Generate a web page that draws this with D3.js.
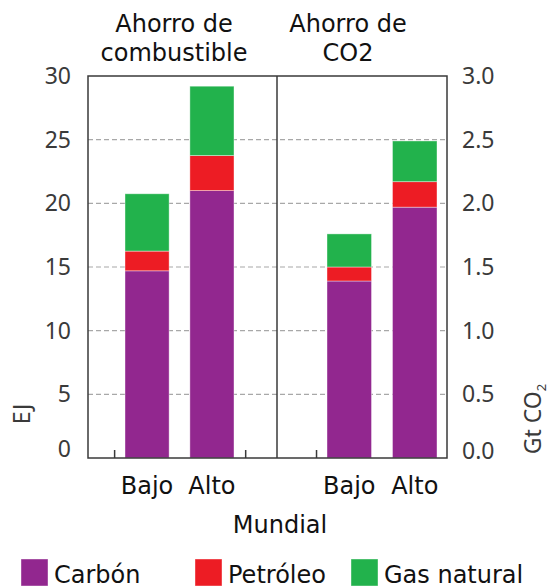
<!DOCTYPE html>
<html>
<head>
<meta charset="utf-8">
<script src="https://cdn.jsdelivr.net/npm/d3@7"></script>
<style>
  html, body { margin: 0; padding: 0; background: #fff; }
  svg { display: block; }
</style>
</head>
<body>
<svg id="chart" width="553" height="588"></svg>
<script>
// ---- data ----
const categories = ["Bajo", "Alto"];
const seriesNames = ["Carbón", "Petróleo", "Gas natural"];
const seriesColors = ["#92278f", "#ed1c24", "#22b24c"];
// Ahorro de combustible (EJ)
const fuelCarbon = [14.7, 21.0];
const fuelOil = [1.55, 2.75];
const fuelGas = [4.5, 5.45];
// Ahorro de CO2 (Gt CO2)
const co2Carbon = [1.39, 1.97];
const co2Oil = [0.11, 0.20];
const co2Gas = [0.26, 0.32];
const leftTicks = [0, 5, 10, 15, 20, 25, 30];
const rightTicks = [0, 0.5, 1.0, 1.5, 2.0, 2.5, 3.0];
const panelTitles = [["Ahorro de", "combustible"], ["Ahorro de", "CO2"]];
const xTitle = "Mundial";
const leftAxisTitle = "EJ";

(function () {
// ---- layout ----
const svg = d3.select("#chart");
const pLeft = 88, pRight = 447, pTop = 76, pBottom = 458, divider = 277;
const yL = d3.scaleLinear().domain([0, 30]).range([pBottom, pTop]);
const yR = d3.scaleLinear().domain([0, 3]).range([pBottom, pTop]);

const xL = d3.scaleBand().domain(categories).range([125, 234]).paddingInner(0.32).paddingOuter(0);
const xR = d3.scaleBand().domain(categories).range([327, 437]).paddingInner(0.32).paddingOuter(0);

const tickFont = "'Noto Sans', 'Open Sans', sans-serif";
const mainFont = "'DejaVu Sans', sans-serif";

// gridlines
svg.append("g").selectAll("line")
  .data(leftTicks.filter(t => t > 0 && t < 30))
  .join("line")
  .attr("x1", pLeft).attr("x2", pRight)
  .attr("y1", d => yL(d)).attr("y2", d => yL(d))
  .attr("stroke", "#a8a8a8").attr("stroke-width", 1.2)
  .attr("stroke-dasharray", "5,3");

// stacked bars
function drawPanel(x, y, carbon, oil, gas) {
  const rows = categories.map((c, i) => ({ cat: c, "Carbón": carbon[i], "Petróleo": oil[i], "Gas natural": gas[i] }));
  const stacked = d3.stack().keys(seriesNames)(rows);
  const g = svg.append("g");
  stacked.forEach((layer, li) => {
    g.append("g").selectAll("rect")
      .data(layer)
      .join("rect")
      .attr("x", d => x(d.data.cat))
      .attr("width", x.bandwidth())
      .attr("y", d => y(d[1]))
      .attr("height", d => y(d[0]) - y(d[1]))
      .attr("fill", seriesColors[li])
      .attr("stroke", "#ffffff").attr("stroke-opacity", 0.5).attr("stroke-width", 0.8);
  });
}
drawPanel(xL, yL, fuelCarbon, fuelOil, fuelGas);
drawPanel(xR, yR, co2Carbon, co2Oil, co2Gas);

// frame
const frame = svg.append("g").attr("stroke", "#3a3a3a").attr("stroke-width", 1.5).attr("fill", "none");
frame.append("rect").attr("x", pLeft).attr("y", pTop).attr("width", pRight - pLeft).attr("height", pBottom - pTop);
frame.append("line").attr("x1", divider).attr("x2", divider).attr("y1", pTop).attr("y2", pBottom);

// bottom tick marks
function tickPositions(x) {
  const st = x.step();
  return [x(categories[0]) - st * 0.16, x(categories[categories.length - 1]) + x.bandwidth() + st * 0.18];
}
const bticks = tickPositions(xL).concat(tickPositions(xR)).filter(v => v > pLeft && v < pRight - 2);
frame.append("g").selectAll("line").data(bticks).join("line")
  .attr("x1", d => d).attr("x2", d => d)
  .attr("y1", pBottom).attr("y2", pBottom - 8);

// y tick labels
svg.append("g").selectAll("text").data(leftTicks).join("text")
  .attr("x", 71).attr("y", d => yL(d) - (d === 0 ? 9 : 0))
  .attr("dy", "0.35em").attr("text-anchor", "end")
  .attr("font-family", tickFont).attr("font-size", 23).attr("fill", "#3a3a3a")
  .text(d => d);
svg.append("g").selectAll("text").data(rightTicks).join("text")
  .attr("x", 462).attr("y", d => yR(d) - (d === 0 ? 7 : 0))
  .attr("dy", "0.35em").attr("text-anchor", "start")
  .attr("font-family", tickFont).attr("font-size", 23).attr("fill", "#3a3a3a")
  .text(d => d3.format(".1f")(d));

// axis titles
svg.append("text")
  .attr("transform", "translate(30,414) rotate(-90)")
  .attr("text-anchor", "middle")
  .attr("font-family", tickFont).attr("font-size", 23).attr("fill", "#3a3a3a")
  .text(leftAxisTitle);
const gt = svg.append("text")
  .attr("transform", "translate(541,419) rotate(-90)")
  .attr("text-anchor", "middle")
  .attr("font-family", tickFont).attr("font-size", 23).attr("fill", "#3a3a3a");
gt.append("tspan").text("Gt CO");
gt.append("tspan").attr("font-size", 13).attr("dy", 5).text("2");

// category labels
[xL, xR].forEach(x => {
  svg.append("g").selectAll("text").data(categories).join("text")
    .attr("x", d => x(d) + x.bandwidth() / 2).attr("y", 494)
    .attr("text-anchor", "middle")
    .attr("font-family", mainFont).attr("font-size", 24).attr("fill", "#111")
    .text(d => d);
});
svg.append("text").attr("x", 280).attr("y", 533)
  .attr("text-anchor", "middle")
  .attr("font-family", mainFont).attr("font-size", 24).attr("fill", "#111")
  .text(xTitle);

// panel titles
const titleCenters = [174, 348];
panelTitles.forEach((lines, i) => {
  svg.append("g").selectAll("text").data(lines).join("text")
    .attr("x", titleCenters[i]).attr("y", (d, j) => 32 + j * 29)
    .attr("text-anchor", "middle")
    .attr("font-family", mainFont).attr("font-size", 24).attr("fill", "#111")
    .text(d => d);
});

// legend
const legendX = [21, 195, 351];
const lg = svg.append("g").selectAll("g").data(seriesNames).join("g")
  .attr("transform", (d, i) => `translate(${legendX[i]},559)`);
lg.append("rect").attr("width", 27).attr("height", 27)
  .attr("fill", (d, i) => seriesColors[i])
  .attr("stroke", "#fff").attr("stroke-opacity", 0.5).attr("stroke-width", 0.8);
lg.append("text").attr("x", 33).attr("y", 24)
  .attr("font-family", mainFont).attr("font-size", 24).attr("fill", "#111")
  .text(d => d);
})();
</script>
</body>
</html>
